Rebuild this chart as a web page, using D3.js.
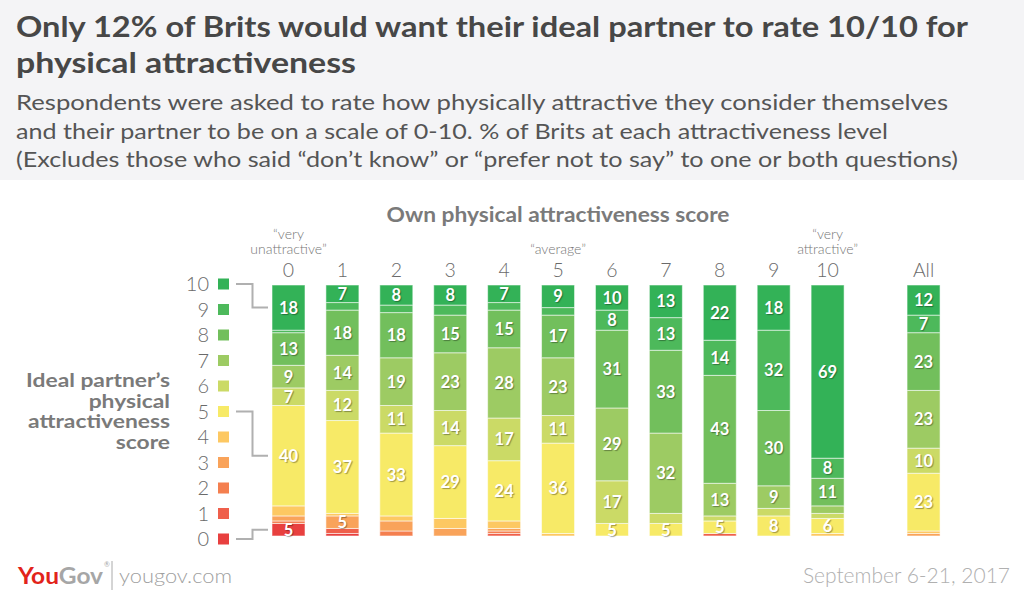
<!DOCTYPE html>
<html><head><meta charset="utf-8">
<script src="https://cdn.jsdelivr.net/npm/d3@7"></script>
<style>
body{margin:0;background:#fff;}
svg{display:block;font-family:Lato,"Open Sans",sans-serif;}
.lbl{text-shadow:1px 1px 1px rgba(0,0,0,0.35);}
</style></head>
<body><svg id="c" width="1024" height="594"></svg>
<script>
const title = ["Only 12% of Brits would want their ideal partner to rate 10/10 for","physical attractiveness"];
const subtitle = ["Respondents were asked to rate how physically attractive they consider themselves",
 "and their partner to be on a scale of 0-10. % of Brits at each attractiveness level",
 "(Excludes those who said \u201cdon\u2019t know\u201d or \u201cprefer not to say\u201d to one or both questions)"];
const ownScores = ["0","1","2","3","4","5","6","7","8","9","10","All"];
const idealScores = [0,1,2,3,4,5,6,7,8,9,10];
// % at ideal-partner score 0..10, for each own score
const own0  = [5,0,1,2,4,40,7,9,13,1,18];
const own1  = [1,2,0,5,1,37,12,14,18,3,7];
const own2  = [0,0,2,4,2,33,11,19,18,3,8];
const own3  = [0,0,0,3,4,29,14,23,15,4,8];
const own4  = [0,1,1,1,3,24,17,28,15,3,7];
const own5  = [0,0,0,0,1,36,11,23,17,3,9];
const own6  = [0,0,0,0,0,5,17,29,31,8,10];
const own7  = [0,0,0,0,0,5,4,32,33,13,13];
const own8  = [0,1,0,0,0,5,2,13,43,14,22];
const own9  = [0,0,0,0,0,8,3,9,30,32,18];
const own10 = [0,0,0,0,1,6,2,3,11,8,69];
const ownAll= [0,0,0,1,1,23,10,23,23,7,12];
const columns = [own0,own1,own2,own3,own4,own5,own6,own7,own8,own9,own10,ownAll];
const topNotes = {"0":["\u201cvery","unattractive\u201d"],"5":["\u201caverage\u201d"],"10":["\u201cvery","attractive\u201d"]};
const colors = ["#e8403f","#ef5f4b","#f47f4f","#f9a35a","#fdc862","#f7ea67","#cbda66","#9dcb63","#72bf5c","#4db95b","#33b257"];

const svg = d3.select("#c");
svg.append("rect").attr("x",0).attr("y",0).attr("width",1024).attr("height",180).attr("fill","#f4f4f6");

// title
svg.selectAll("text.title").data(title).join("text")
  .attr("x",16).attr("y",(d,i)=>37+i*36).attr("fill","#474747")
  .attr("font-size",29).attr("font-weight",700)
  .attr("textLength",(d,i)=>i===0?952:340).attr("lengthAdjust","spacingAndGlyphs")
  .text(d=>d);
svg.selectAll("text.sub").data(subtitle).join("text")
  .attr("x",16).attr("y",(d,i)=>110+i*28.5).attr("fill","#555")
  .attr("font-size",21).attr("font-weight",400)
  .attr("textLength",(d,i)=>[932,872,942][i]).attr("lengthAdjust","spacingAndGlyphs")
  .text(d=>d);

// scales
const x = d3.scaleLinear().domain([0,11]).range([272,865]);
const allSlot = 11.78;
const colX = i => x(i===11?allSlot:i);
const bw = 33;
const y = d3.scaleLinear().domain([0,100]).range([536,285]);
const ly = d3.scaleLinear().domain([0,10]).range([539,284]);

svg.append("text").attr("x",558).attr("y",222).attr("text-anchor","middle")
  .attr("fill","#7a7a7a").attr("font-size",20).attr("font-weight",700)
  .attr("textLength",343).attr("lengthAdjust","spacingAndGlyphs").text("Own physical attractiveness score");

// column labels
const g = svg.append("g");
ownScores.forEach((s,i)=>{
  g.append("text").attr("x",colX(i)+bw/2).attr("y",277).attr("text-anchor","middle")
   .attr("fill","#6a6a6a").attr("font-size",19.5).attr("font-weight",300).text(s);
  const n = topNotes[s];
  if(n){
    n.forEach((t,j)=>{
      g.append("text").attr("x",colX(i)+bw/2).attr("y",254-(n.length-1-j)*15).attr("text-anchor","middle")
       .attr("fill","#777").attr("font-size",14).attr("font-weight",300).text(t);
    });
  }
});

// bars
columns.forEach((vals,i)=>{
  const stack = [];
  let acc=0;
  vals.forEach((v,k)=>{stack.push({k,v,y0:acc,y1:acc+v}); acc+=v;});
  const cg = svg.append("g");
  cg.selectAll("rect").data(stack.filter(d=>d.v>0)).join("rect")
    .attr("x",colX(i)).attr("width",bw)
    .attr("y",d=>y(d.y1)).attr("height",d=>y(d.y0)-y(d.y1))
    .attr("fill",d=>colors[d.k]).attr("stroke","rgba(255,255,255,0.55)").attr("stroke-width",1);
  cg.selectAll("text").data(stack.filter(d=>d.v>=5)).join("text")
    .attr("class","lbl")
    .attr("x",colX(i)+bw/2).attr("y",d=>(y(d.y0)+y(d.y1))/2+6).attr("text-anchor","middle")
    .attr("fill","#fff").attr("font-size",16.5).attr("font-weight",700).text(d=>d.v);
});

// legend
idealScores.forEach(s=>{
  svg.append("text").attr("x",209).attr("y",ly(s)+7).attr("text-anchor","end")
    .attr("fill","#6a6a6a").attr("font-size",20).attr("font-weight",300).text(s);
  svg.append("rect").attr("x",218).attr("y",ly(s)-5.5).attr("width",11).attr("height",11).attr("fill",colors[s]);
});
const leftLbl = ["Ideal partner\u2019s","physical","attractiveness","score"];
svg.selectAll("text.ll").data(leftLbl).join("text")
  .attr("x",170).attr("y",(d,i)=>387+i*20.5).attr("text-anchor","end")
  .attr("fill","#7a7a7a").attr("font-size",19).attr("font-weight",700)
  .each(function(){ const w=this.getComputedTextLength(); d3.select(this).attr("textLength",w*1.2).attr("lengthAdjust","spacingAndGlyphs"); })
  .text(d=>d)
  .each(function(){ const w=this.getComputedTextLength(); d3.select(this).attr("textLength",w*1.2).attr("lengthAdjust","spacingAndGlyphs"); });

// connectors from legend to first column
const line = d3.line();
[10,5,0].forEach(s=>{
  const before = d3.sum(own0.slice(0,s));
  const mid = y(before + own0[s]/2);
  svg.append("path").attr("d",line([[236,ly(s)],[252.5,ly(s)],[252.5,mid],[268,mid]]))
    .attr("fill","none").attr("stroke","#b0b0b0").attr("stroke-width",2);
});

// footer
const f = svg.append("text").attr("x",18).attr("y",584).attr("font-size",23).attr("font-weight",700)
  .attr("textLength",85).attr("lengthAdjust","spacingAndGlyphs");
f.append("tspan").attr("fill","#e2231a").text("You");
f.append("tspan").attr("fill","#a6a6a6").text("Gov");
svg.append("text").attr("x",104).attr("y",567).attr("font-size",7).attr("fill","#a6a6a6").text("\u00ae");
svg.append("line").attr("x1",112).attr("x2",112).attr("y1",561).attr("y2",590).attr("stroke","#aaa").attr("stroke-width",1);
svg.append("text").attr("x",119).attr("y",583).attr("font-size",20).attr("font-weight",300).attr("fill","#a0a0a0")
  .attr("textLength",113).attr("lengthAdjust","spacingAndGlyphs").text("yougov.com");
svg.append("text").attr("x",1010).attr("y",583).attr("text-anchor","end").attr("font-size",21).attr("font-weight",300).attr("fill","#b0b0b0")
  .text("September 6-21, 2017");
</script></body></html>
